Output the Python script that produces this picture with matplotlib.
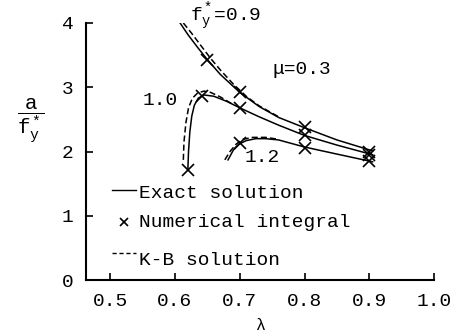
import matplotlib
matplotlib.use('Agg')
import matplotlib.pyplot as plt

plt.rcParams.update({
    'font.family': ['Liberation Mono', 'DejaVu Sans Mono'],
    'font.size': 14,
    'mathtext.fontset': 'custom',
    'mathtext.rm': 'Liberation Mono',
    'mathtext.it': 'Liberation Mono',
    'mathtext.bf': 'Liberation Mono',
})

# exact solution curves
lam_09 = [0.608, 0.62, 0.635, 0.65, 0.67, 0.70, 0.73, 0.76, 0.80, 0.85, 0.905]
a_09 = [4.00, 3.82, 3.62, 3.43, 3.20, 2.92, 2.70, 2.53, 2.37, 2.18, 2.01]

lam_10 = [0.620, 0.621, 0.623, 0.626, 0.630, 0.636, 0.645, 0.66, 0.68, 0.70,
          0.73, 0.76, 0.80, 0.85, 0.905]
a_10 = [1.72, 2.00, 2.30, 2.55, 2.72, 2.83, 2.88, 2.86, 2.78, 2.68,
        2.54, 2.41, 2.25, 2.10, 1.95]

lam_12 = [0.682, 0.69, 0.70, 0.71, 0.725, 0.74, 0.76, 0.80, 0.85, 0.905]
a_12 = [1.87, 2.02, 2.12, 2.17, 2.20, 2.20, 2.18, 2.07, 1.96, 1.84]

# K-B solution curves
kb_lam_09 = [0.613, 0.625, 0.64, 0.655, 0.67, 0.69, 0.71, 0.73, 0.76]
kb_a_09 = [4.00, 3.85, 3.65, 3.45, 3.27, 3.05, 2.86, 2.71, 2.54]

kb_lam_10 = [0.613, 0.614, 0.617, 0.621, 0.627, 0.635, 0.645, 0.655, 0.67, 0.69]
kb_a_10 = [1.87, 2.15, 2.45, 2.68, 2.83, 2.91, 2.94, 2.92, 2.85, 2.73]

kb_lam_12 = [0.677, 0.685, 0.695, 0.705, 0.72, 0.74, 0.76]
kb_a_12 = [1.87, 2.00, 2.12, 2.19, 2.22, 2.22, 2.19]

# numerical integral points
num_lam_09 = [0.65, 0.70, 0.80, 0.90]
num_a_09 = [3.42, 2.92, 2.38, 2.00]
num_lam_10 = [0.62, 0.642, 0.70, 0.80, 0.90]
num_a_10 = [1.72, 2.87, 2.68, 2.25, 1.95]
num_lam_12 = [0.70, 0.80, 0.90]
num_a_12 = [2.13, 2.06, 1.85]

x_ticks = [0.5, 0.6, 0.7, 0.8, 0.9, 1.0]
x_tick_labels = ['0.5', '0.6', '0.7', '0.8', '0.9', '1.0']
y_ticks = [0, 1, 2, 3, 4]

fig = plt.figure(figsize=(4.58, 3.33), dpi=100)
ax = fig.add_axes([0.188, 0.159, 0.760, 0.772])

for lam, a in [(lam_09, a_09), (lam_10, a_10), (lam_12, a_12)]:
    ax.plot(lam, a, color='black', lw=1.1)
for lam, a in [(kb_lam_09, kb_a_09), (kb_lam_10, kb_a_10), (kb_lam_12, kb_a_12)]:
    ax.plot(lam, a, color='black', lw=1.1, dashes=(4, 2))
for lam, a in [(num_lam_09, num_a_09), (num_lam_10, num_a_10), (num_lam_12, num_a_12)]:
    ax.plot(lam, a, 'x', color='black', ms=8, mew=1.2)

ax.set_xlim(0.463, 1.0)
ax.set_ylim(0, 4)
ax.set_xticks(x_ticks)
ax.set_xticklabels(x_tick_labels)
ax.set_yticks(y_ticks)
ax.tick_params(direction='in', length=5, width=1.2, pad=9, labelsize=14)
ax.spines['top'].set_visible(False)
ax.spines['right'].set_visible(False)
ax.spines['left'].set_linewidth(1.5)
ax.spines['bottom'].set_linewidth(1.5)

ax.set_xlabel('λ', fontsize=12, labelpad=6)
ax.set_ylabel(r'$\mathrm{\dfrac{a}{f_y^*}}$', rotation=0, fontsize=15,
              ha='center', va='center')
ax.yaxis.set_label_coords(-0.158, 0.62)

# curve labels
ax.text(0.623, 4.09, r'$\mathrm{f_y^*}$=0.9', ha='left', va='center',
        fontsize=14, clip_on=False)
ax.text(0.796, 3.27, 'μ=0.3', ha='center', va='center', fontsize=14)
ax.text(0.577, 2.80, '1.0', ha='center', va='center', fontsize=14)
ax.text(0.735, 1.90, '1.2', ha='center', va='center', fontsize=14)

# hand-drawn key
ax.plot([0.503, 0.540], [1.40, 1.40], color='black', lw=1.0)
ax.text(0.545, 1.35, 'Exact solution', ha='left', va='center', fontsize=14)
ax.plot([0.522], [0.90], 'x', color='black', ms=6, mew=1.2)
ax.text(0.545, 0.90, 'Numerical integral', ha='left', va='center', fontsize=14)
ax.plot([0.503, 0.540], [0.42, 0.42], color='black', lw=1.0, dashes=(3, 2))
ax.text(0.545, 0.31, 'K-B solution', ha='left', va='center', fontsize=14)

fig.savefig('out.png', dpi=100)
